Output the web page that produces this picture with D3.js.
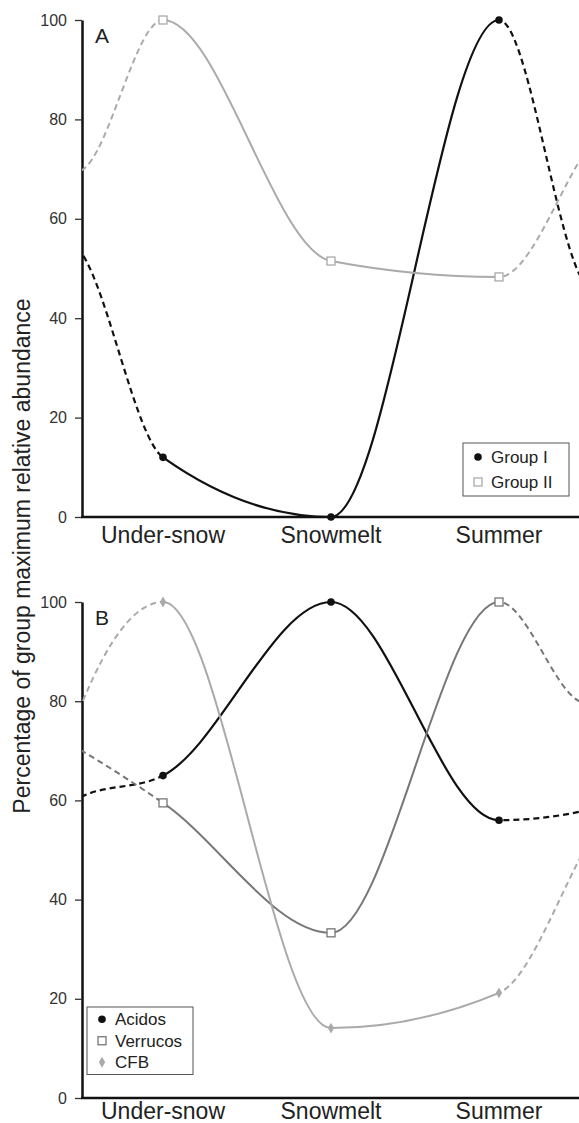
<!DOCTYPE html>
<html>
<head>
<meta charset="utf-8">
<script src="https://cdn.jsdelivr.net/npm/d3@7"></script>
<style>
body { margin: 0; background: #fff; }
svg { display: block; font-family: "Liberation Sans", Arial, sans-serif; }
</style>
</head>
<body>
<script>
var W = 579, H = 1123;
var seasons = ["Under-snow", "Snowmelt", "Summer"];
var yTicks = [0, 20, 40, 60, 80, 100];

// panel A
var namesA = ["Group I", "Group II"];
var groupI  = [12, 0, 100];
var groupII = [100, 51.5, 48.3];
// where the dashed carry-over meets the left / right plot edge,
// and where it is heading just past the edge
var edgeLeftA  = [53, 69.8];
var edgeRightA = [49, 71.5];
var outLeftA   = [55.8, 69];
var outRightA  = [45, 75];

// panel B
var namesB = ["Acidos", "Verrucos", "CFB"];
var acidos   = [65, 100, 56];
var verrucos = [59.5, 33.3, 100];
var cfb      = [100, 14.1, 21.2];
var edgeLeftB  = [60.8, 70, 79.6];
var edgeRightB = [57.7, 80, 48];
var outLeftB   = [59.8, 71.2, 74.4];
var outRightB  = [58.3, 79.1, 52];

var look = {
  "Group I":  {color: "#111", mark: "dot",     width: 2.2},
  "Group II": {color: "#aaa", mark: "square",  width: 2},
  "Acidos":   {color: "#111", mark: "dot",     width: 2.2},
  "Verrucos": {color: "#777", mark: "square",  width: 2},
  "CFB":      {color: "#aaa", mark: "diamond", width: 2}
};

var panels = [
  {id: "A", top: 20, bottom: 517, labOff: 26, names: namesA,
   values: [groupI, groupII], edgeL: edgeLeftA, edgeR: edgeRightA,
   outL: outLeftA, outR: outRightA,
   legend: {x: 463, y: 443, w: 106, row: 25}},
  {id: "B", top: 602, bottom: 1098, labOff: 21, names: namesB,
   values: [acidos, verrucos, cfb], edgeL: edgeLeftB, edgeR: edgeRightB,
   outL: outLeftB, outR: outRightB,
   legend: {x: 87, y: 1007, w: 106, row: 21.5}}
];

var left = 82;

var svg = d3.select("body").append("svg")
  .attr("width", W)
  .attr("height", H);

var x = d3.scalePoint().domain(seasons).range([79, 583]).padding(0.5);
var xFirst = x(seasons[0]), xLast = x(seasons[seasons.length - 1]);

var defs = svg.append("defs");
defs.append("clipPath").attr("id", "solid")
  .append("rect").attr("x", xFirst).attr("y", 0)
  .attr("width", xLast - xFirst).attr("height", H);
var dc = defs.append("clipPath").attr("id", "dash");
dc.append("rect").attr("x", left).attr("y", 0).attr("width", xFirst - left).attr("height", H);
dc.append("rect").attr("x", xLast).attr("y", 0).attr("width", W - xLast).attr("height", H);

function drawMark(g, kind, cx, cy, color) {
  if (kind == "dot") {
    g.append("circle").attr("cx", cx).attr("cy", cy).attr("r", 3.8).attr("fill", color);
  } else if (kind == "square") {
    g.append("rect").attr("x", cx - 4).attr("y", cy - 4).attr("width", 8).attr("height", 8)
      .attr("fill", "#fff").attr("stroke", color).attr("stroke-width", 1.3);
  } else {
    g.append("path").attr("d", d3.symbol(d3.symbolDiamond).size(34)())
      .attr("transform", "translate(" + cx + "," + cy + ")").attr("fill", color);
  }
}

panels.forEach(function(p) {
  var y = d3.scaleLinear().domain([0, 100]).range([p.bottom, p.top]);
  var g = svg.append("g");

  // y axis
  var ax = g.append("g")
    .attr("transform", "translate(" + left + ",0)")
    .call(d3.axisLeft(y).tickValues(yTicks).tickSize(7).tickPadding(8).tickSizeOuter(0));
  ax.select(".domain").attr("stroke", "#111").attr("stroke-width", 2.5);
  ax.selectAll(".tick line").attr("stroke", "#333").attr("stroke-width", 1.3);
  ax.selectAll(".tick text").attr("fill", "#333").style("font-size", "16px")
    .style("font-family", "Liberation Sans, Arial, sans-serif");

  // x axis line + labels
  g.append("line").attr("x1", left - 1).attr("x2", W)
    .attr("y1", y(0)).attr("y2", y(0))
    .attr("stroke", "#111").attr("stroke-width", 2.5);
  g.selectAll(".xlab").data(seasons).enter().append("text")
    .attr("x", function(d) { return x(d); })
    .attr("y", y(0) + p.labOff)
    .attr("text-anchor", "middle")
    .attr("fill", "#222")
    .style("font-size", "23px")
    .text(function(d) { return d; });

  // panel letter
  g.append("text").attr("x", 95).attr("y", p.top + 23)
    .style("font-size", "21px").attr("fill", "#222").text(p.id);

  var line = d3.line()
    .x(function(d) { return d[0]; })
    .y(function(d) { return y(d[1]); })
    .curve(d3.curveMonotoneX);

  p.names.forEach(function(name, i) {
    var st = look[name];
    var vals = p.values[i];
    var pts = [[left - 10, p.outL[i]], [left, p.edgeL[i]]];
    seasons.forEach(function(s, j) { pts.push([x(s), vals[j]]); });
    pts.push([W, p.edgeR[i]], [W + 10, p.outR[i]]);

    g.append("path").attr("d", line(pts))
      .attr("fill", "none").attr("stroke", st.color).attr("stroke-width", st.width)
      .attr("stroke-dasharray", "6,4")
      .attr("clip-path", "url(#dash)");
    g.append("path").attr("d", line(pts))
      .attr("fill", "none").attr("stroke", st.color).attr("stroke-width", st.width)
      .attr("clip-path", "url(#solid)");
    seasons.forEach(function(s, j) {
      drawMark(g, st.mark, x(s), y(vals[j]), st.color);
    });
  });

  // legend
  var L = p.legend;
  var lg = g.append("g");
  lg.append("rect").attr("x", L.x).attr("y", L.y).attr("width", L.w)
    .attr("height", L.row * p.names.length + 3)
    .attr("fill", "#fff").attr("stroke", "#555").attr("stroke-width", 1);
  p.names.forEach(function(name, i) {
    var cy = L.y + L.row * (i + 0.5) + 1.5;
    drawMark(lg, look[name].mark, L.x + 15, cy, look[name].color);
    lg.append("text").attr("x", L.x + 28).attr("y", cy + 6)
      .style("font-size", "17px").attr("fill", "#222").text(name);
  });
});

// shared y title
svg.append("text")
  .attr("transform", "translate(30,556) rotate(-90)")
  .attr("text-anchor", "middle")
  .style("font-size", "23px")
  .attr("fill", "#222")
  .text("Percentage of group maximum relative abundance");
</script>
</body>
</html>
